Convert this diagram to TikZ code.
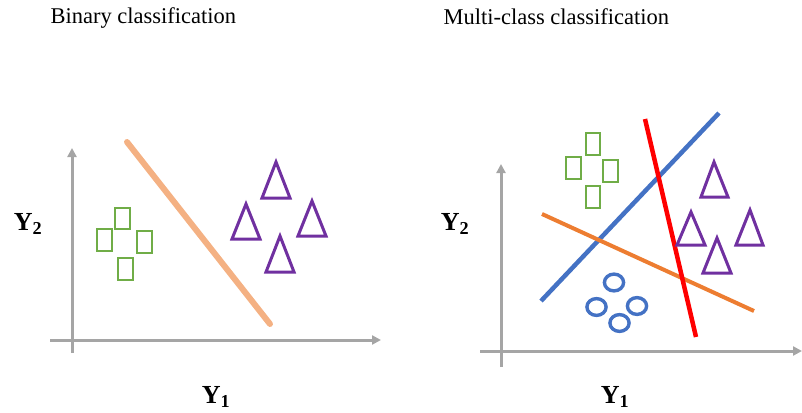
\documentclass[tikz,border=0pt]{standalone}
\usepackage{fontspec}
\setmainfont{Liberation Serif}
\usetikzlibrary{arrows.meta}

\definecolor{axisgray}{HTML}{A5A5A5}
\definecolor{peach}{HTML}{F4B183}
\definecolor{leaf}{HTML}{70AD47}
\definecolor{plum}{HTML}{7030A0}
\definecolor{steel}{HTML}{4472C4}
\definecolor{tangerine}{HTML}{ED7D31}

\begin{document}
\begin{tikzpicture}[x=1pt,y=-1pt,
  axis/.style={draw=axisgray,line width=3pt,-{Triangle[length=9pt,width=9pt]}},
  title/.style={anchor=base west,font=\fontsize{22.5}{26}\selectfont},
  varlabel/.style={font=\fontsize{26}{30}\selectfont\bfseries},
  box/.style={draw=leaf,line width=2.7pt},
  tri/.style={draw=plum,line width=3pt,line join=miter},
  ring/.style={draw=steel,line width=3.4pt}]
\useasboundingbox (0,0) rectangle (802,412);

% left panel
\node[title] (t1) at (47,24) {Binary classification};
\coordinate (o1x) at (50,340);
\coordinate (e1x) at (381,340);
\coordinate (o1y) at (72,353);
\coordinate (e1y) at (72,148);
\draw[axis] (o1x)--(e1x);
\draw[axis] (o1y)--(e1y);
\node[varlabel] (y2a) at (28,224) {Y\textsubscript{2}};
\node[varlabel] (y1a) at (216,397) {Y\textsubscript{1}};
\coordinate (sepa) at (127,142);
\coordinate (sepb) at (270,324);
\draw[peach,line width=6pt,line cap=round] (sepa)--(sepb);
\draw[box] (115,208) rectangle (130,229);
\draw[box] (97,229) rectangle (112,251);
\draw[box] (137,231) rectangle (152,253);
\draw[box] (118,258) rectangle (133,280);
\draw[tri] (276,162)--(290,198)--(262,198)--cycle;
\draw[tri] (246,204)--(260,239)--(232,239)--cycle;
\draw[tri] (312,201)--(326,236)--(298,236)--cycle;
\draw[tri] (280,236)--(294,272)--(266,272)--cycle;

% right panel
\node[title] (t2) at (440,25) {Multi-class classification};
\coordinate (o2x) at (480,351);
\coordinate (e2x) at (802,351);
\coordinate (o2y) at (501,367);
\coordinate (e2y) at (501,164);
\draw[axis] (o2x)--(e2x);
\draw[axis] (o2y)--(e2y);
\node[varlabel] (y2b) at (455,224) {Y\textsubscript{2}};
\node[varlabel] (y1b) at (615,397) {Y\textsubscript{1}};
\coordinate (bla) at (541,301);
\coordinate (blb) at (719,113);
\coordinate (rda) at (645,119);
\coordinate (rdb) at (696,337);
\coordinate (ora) at (542,214);
\coordinate (orb) at (754,311);
\draw[steel,line width=4.5pt] (bla)--(blb);
\draw[tangerine,line width=4pt] (ora)--(orb);
\draw[red,line width=4.5pt] (rda)--(rdb);
\draw[box] (586,133) rectangle (600,155);
\draw[box] (566,157) rectangle (581,179);
\draw[box] (603,160) rectangle (618,182);
\draw[box] (586,186) rectangle (600,208);
\draw[tri] (714,162)--(728,197)--(701,197)--cycle;
\draw[tri] (691,212)--(705,245)--(677,245)--cycle;
\draw[tri] (750,210)--(763,245)--(736,245)--cycle;
\draw[tri] (717,238)--(731,273)--(703,273)--cycle;
\draw[ring] (614,282.5) ellipse [x radius=9.6,y radius=8.4];
\draw[ring] (596.5,307) ellipse [x radius=9.6,y radius=8.4];
\draw[ring] (637,306) ellipse [x radius=9.6,y radius=8.4];
\draw[ring] (619.5,323) ellipse [x radius=9.6,y radius=8.4];
\end{tikzpicture}
\end{document}
